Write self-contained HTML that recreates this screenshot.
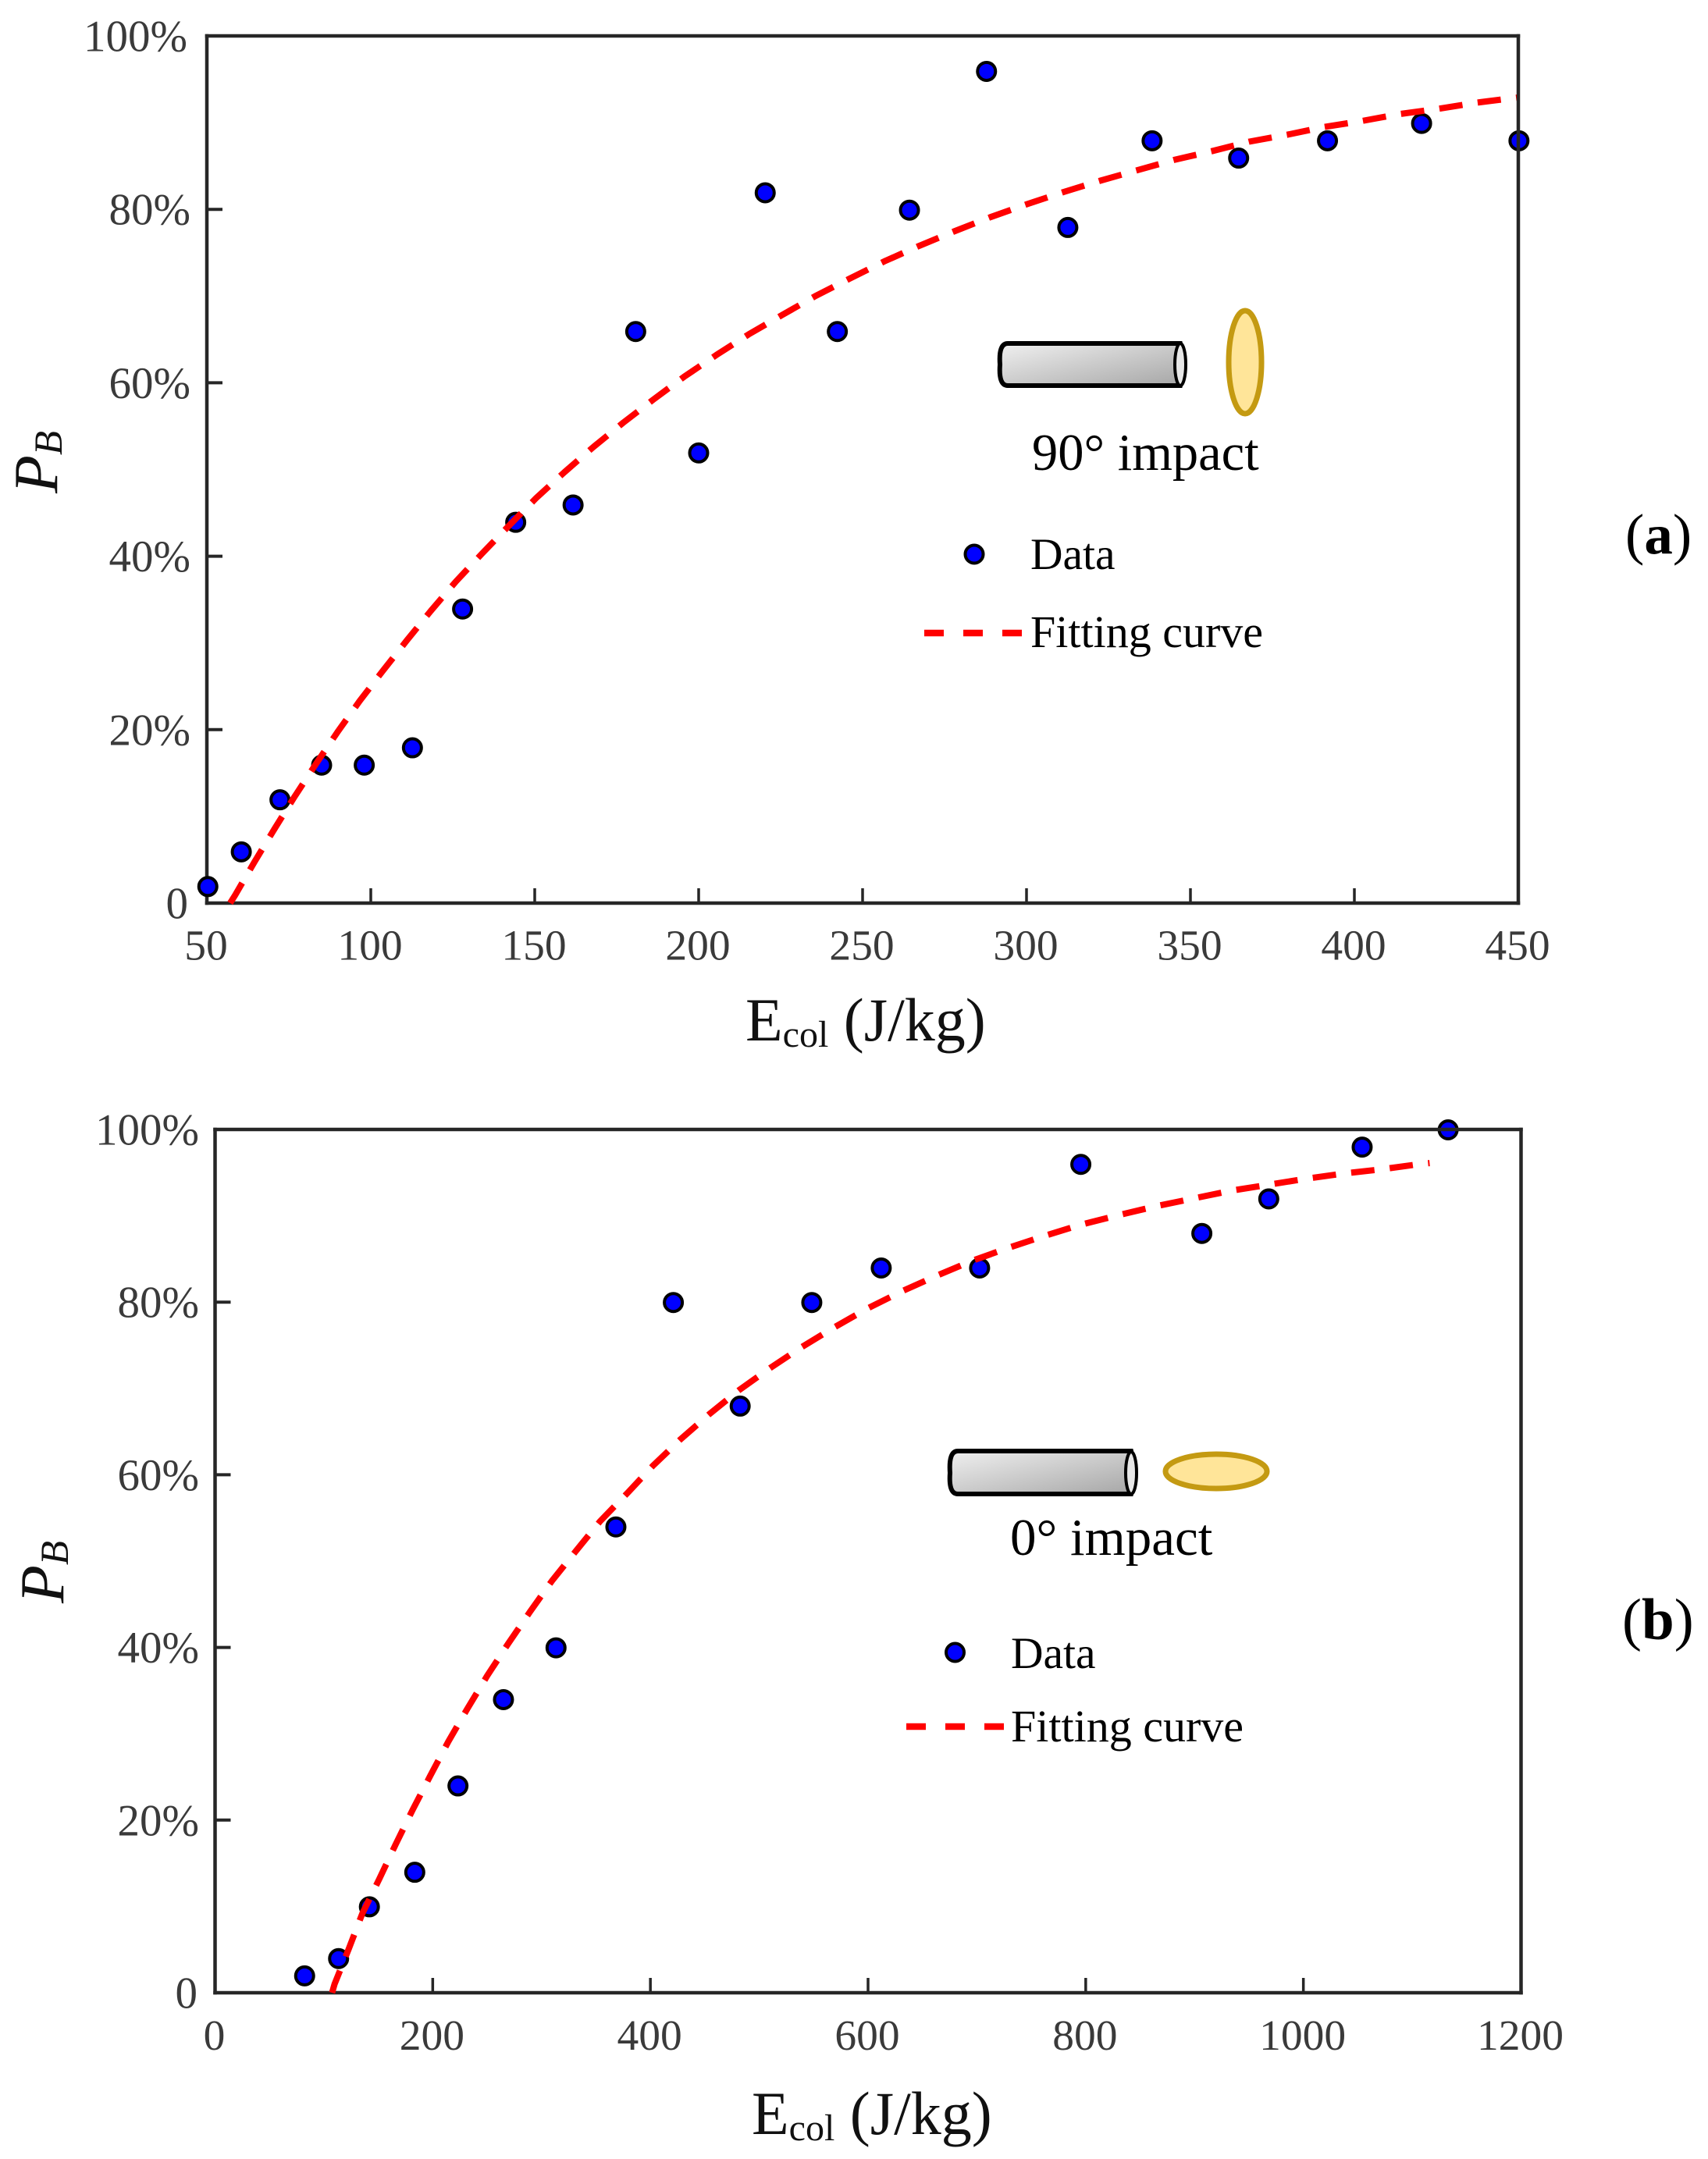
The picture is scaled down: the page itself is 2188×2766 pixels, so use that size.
<!DOCTYPE html>
<html lang="en">
<head>
<meta charset="utf-8">
<title>Breakage probability versus collision energy</title>
<style>
html,body{margin:0;padding:0;background:#fff;}
svg{display:block;}
text{font-family:"Liberation Serif","Times New Roman",serif;}
.tick{fill:#3a3a3a;}
.legend{fill:#000;}
</style>
</head>
<body>
<svg id="figure" xmlns="http://www.w3.org/2000/svg" width="2188" height="2766" viewBox="0 0 2188 2766">
  <defs>
    <linearGradient id="cylGrad" x1="0" y1="0" x2="1" y2="1">
      <stop offset="0" stop-color="#f0f0f0"/>
      <stop offset="1" stop-color="#a6a6a6"/>
    </linearGradient>
  </defs>
  <rect width="2188" height="2766" fill="#fff"/>

  <g id="panelA"></g>
  <g id="panelB"></g>

  <!-- Panel (a) titles -->
  <text x="955" y="1333" font-size="78" fill="#111">E<tspan font-size="48" dy="8">col</tspan><tspan dy="-8"> (J/kg)</tspan></text>
  <text transform="translate(73,632) rotate(-90)" font-size="80" font-style="italic" fill="#111">P<tspan font-size="51" dy="6">B</tspan></text>
  <text x="2082" y="709" font-size="73" fill="#000">(<tspan font-weight="bold">a</tspan>)</text>

  <!-- Panel (a) annotation and legend -->
  <g>
    <path d="M1291 440 H1512 Q1519 467 1512 494 H1291 Q1279 494 1281 467 Q1279 440 1291 440 Z" fill="url(#cylGrad)" stroke="#000" stroke-width="6"/>
    <ellipse cx="1512" cy="467" rx="7" ry="27" fill="#e8e8e8" stroke="#000" stroke-width="4"/>
  </g>
  <ellipse cx="1595" cy="464" rx="21" ry="66" fill="#ffe599" stroke="#c49a12" stroke-width="7"/>
  <text class="legend" x="1322" y="602" font-size="66.5">90° impact</text>
  <circle cx="1248" cy="710" r="11.5" fill="#0000ff" stroke="#000" stroke-width="4"/>
  <text class="legend" x="1320" y="729" font-size="57.5">Data</text>
  <line x1="1184" y1="811" x2="1309" y2="811" stroke="#ff0000" stroke-width="8.5" stroke-dasharray="25 25"/>
  <text class="legend" x="1320" y="829" font-size="58">Fitting curve</text>

  <!-- Panel (b) titles -->
  <text x="963" y="2734" font-size="78" fill="#111">E<tspan font-size="48" dy="8">col</tspan><tspan dy="-8"> (J/kg)</tspan></text>
  <text transform="translate(81,2054) rotate(-90)" font-size="80" font-style="italic" fill="#111">P<tspan font-size="51" dy="6">B</tspan></text>
  <text x="2078" y="2100" font-size="75" fill="#000">(<tspan font-weight="bold">b</tspan>)</text>

  <!-- Panel (b) annotation and legend -->
  <g>
    <path d="M1227 1859 H1449 Q1456 1887 1449 1914 H1227 Q1215 1914 1217 1887 Q1215 1859 1227 1859 Z" fill="url(#cylGrad)" stroke="#000" stroke-width="6"/>
    <ellipse cx="1449" cy="1887" rx="7" ry="27" fill="#e8e8e8" stroke="#000" stroke-width="4"/>
  </g>
  <ellipse cx="1558" cy="1885" rx="65" ry="22" fill="#ffe599" stroke="#c49a12" stroke-width="7"/>
  <text class="legend" x="1294" y="1992" font-size="67">0° impact</text>
  <circle cx="1223.5" cy="2117" r="11.5" fill="#0000ff" stroke="#000" stroke-width="4"/>
  <text class="legend" x="1295" y="2137" font-size="57.5">Data</text>
  <line x1="1161" y1="2212" x2="1286" y2="2212" stroke="#ff0000" stroke-width="8.5" stroke-dasharray="25 25"/>
  <text class="legend" x="1295" y="2231" font-size="58">Fitting curve</text>
</svg>

<script>
// ---- Chart values ----
var energyA = [50.3,60.5,72.3,85,98,112.7,128,144.2,161.7,180.8,200,220.3,242.3,264.3,287.8,312.6,338.3,364.7,391.8,420.5,450.2];
var breakageA = [2,6,12,16,16,18,34,44,46,66,52,82,66,80,96,78,88,86,88,90,88];
var fitEnergyA = [57.1,58.6,64.6,70.7,76.8,83,89.8,96.6,103.7,111,118.3,126,133.9,142.1,150.4,159.1,167.9,177,186.3,195.6,205.4,215.3,225.4,235.6,246,256.6,267.3,278.2,289,300.2,311.3,322.5,333.7,345,356.4,367.9,379.4,390.8,402.4,414,425.7,437.3,447.8,450];
var fitBreakageA = [0,0.9,4.8,8.6,12.3,15.9,19.7,23.3,26.8,30.3,33.7,37.1,40.3,43.5,46.7,49.7,52.6,55.4,58.1,60.7,63.2,65.6,67.8,70,72,74,75.8,77.5,79.1,80.6,82,83.3,84.5,85.7,86.7,87.8,88.6,89.5,90.2,91,91.6,92.3,92.8,92.9];
var xTicksA = [50,100,150,200,250,300,350,400,450];

var energyB = [82.3,113.5,141.8,183.5,223.2,265,313.3,368.3,421.1,482.5,548.3,612.1,702.5,795.5,906.7,968.2,1054,1133];
var breakageB = [2,4,10,14,24,34,40,54,80,68,80,84,84,96,88,92,98,100];
var fitEnergyB = [107.5,109.8,122.6,135.4,151,166,181.6,197.6,214.3,231.8,250,269.1,289.2,309.5,331.2,353.7,379.8,402,427.6,453.9,481.4,510.4,539.2,569.2,600.1,632,663.8,695.8,729.3,763,796.3,830.9,864.5,898.8,933.3,968,1003,1037.4,1072.6,1107.7,1116];
var fitBreakageB = [0,1,5,9.2,13.2,17.2,21.2,25.1,29.1,32.9,36.7,40.4,44.1,47.7,51.1,54.6,58,61,64.1,67,69.8,72.4,74.8,77.1,79.3,81.3,83.1,84.8,86.3,87.7,89,90.1,91.1,92,92.9,93.6,94.3,94.9,95.4,96,96.1];
var xTicksB = [0,200,400,600,800,1000,1200];

var yTickValues = [0,20,40,60,80,100];
var yTickLabels = ['0','20%','40%','60%','80%','100%'];

// ---- Drawing ----
var NS = 'http://www.w3.org/2000/svg';

function make(parent, tag, attrs) {
  var el = document.createElementNS(NS, tag);
  for (var k in attrs) { el.setAttribute(k, attrs[k]); }
  parent.appendChild(el);
  return el;
}

function drawPanel(cfg) {
  var g = document.getElementById(cfg.id);
  var sx = function (v) { return cfg.left + (v - cfg.xMin) / (cfg.xMax - cfg.xMin) * (cfg.right - cfg.left); };
  var sy = function (v) { return cfg.bottom - v / 100 * (cfg.bottom - cfg.top); };
  var axisStyle = {stroke: '#262626', 'stroke-width': cfg.axisWidth, fill: 'none', 'stroke-linecap': 'square'};

  // left and bottom spines sit under the markers
  var leftSpine = make(g, 'line', Object.assign({x1: cfg.left, y1: cfg.top, x2: cfg.left, y2: cfg.bottom}, axisStyle));
  
  
  var bottomSpine = make(g, 'line', Object.assign({x1: cfg.left, y1: cfg.bottom, x2: cfg.right, y2: cfg.bottom}, axisStyle));
  
  

  // y ticks and labels
  yTickValues.forEach(function (v, i) {
    if (v > 0 && v < 100) {
      var t = make(g, 'line', {x1: cfg.left, y1: sy(v), x2: cfg.left + 20, y2: sy(v), stroke: '#262626', 'stroke-width': 4});
      
      
    }
    var nudge = v === 100 ? cfg.nudge100 : (v === 0 ? cfg.nudge0 : 0);
    var lab = make(g, 'text', {x: cfg.yLabelRight + nudge, y: sy(v) + 19.5, 'text-anchor': 'end', 'font-size': 57, 'class': 'tick'});
    lab.textContent = yTickLabels[i];
    
    
  });

  // x ticks and labels
  cfg.xTicks.forEach(function (v) {
    if (v !== cfg.xMin && v !== cfg.xMax) {
      var t = make(g, 'line', {x1: sx(v), y1: cfg.bottom, x2: sx(v), y2: cfg.bottom - 19, stroke: '#262626', 'stroke-width': 3.5});
      
      
    }
    var lab = make(g, 'text', {x: sx(v) - 1, y: cfg.xLabelBase, 'text-anchor': 'middle', 'font-size': 55.5, 'class': 'tick'});
    lab.textContent = String(v);
    
    
  });

  // data points
  cfg.energy.forEach(function (e, i) {
    var c = make(g, 'circle', {cx: sx(e), cy: sy(cfg.breakage[i]) + cfg.dotShift, r: 11.5, fill: '#0000ff', stroke: '#000', 'stroke-width': 4});
    
    
  });

  // fitting curve
  var pts = cfg.fitEnergy.map(function (e, i) { return sx(e).toFixed(1) + ',' + sy(cfg.fitBreakage[i]).toFixed(1); }).join(' ');
  var curve = make(g, 'polyline', {points: pts, fill: 'none', stroke: '#ff0000', 'stroke-width': 8, 'stroke-dasharray': '30 19.6', 'stroke-linejoin': 'round'});
  
  

  // top and right spines sit over the markers
  var topSpine = make(g, 'line', Object.assign({x1: cfg.left, y1: cfg.top, x2: cfg.right, y2: cfg.top}, axisStyle));
  
  
  var rightSpine = make(g, 'line', Object.assign({x1: cfg.right, y1: cfg.top, x2: cfg.right, y2: cfg.bottom}, axisStyle));
  
  
}

drawPanel({
  id: 'panelA', left: 265, right: 1945, top: 46, bottom: 1157, xMin: 50, xMax: 450,
  axisWidth: 4.5, yLabelRight: 244, nudge100: -4, nudge0: -3, xLabelBase: 1229.5, dotShift: 1,
  xTicks: xTicksA, energy: energyA, breakage: breakageA, fitEnergy: fitEnergyA, fitBreakage: fitBreakageA
});
drawPanel({
  id: 'panelB', left: 275.5, right: 1948.5, top: 1447, bottom: 2553, xMin: 0, xMax: 1200,
  axisWidth: 4.5, yLabelRight: 255, nudge100: 0, nudge0: -2, xLabelBase: 2626, dotShift: 0.5,
  xTicks: xTicksB, energy: energyB, breakage: breakageB, fitEnergy: fitEnergyB, fitBreakage: fitBreakageB
});
</script>
</body>
</html>
